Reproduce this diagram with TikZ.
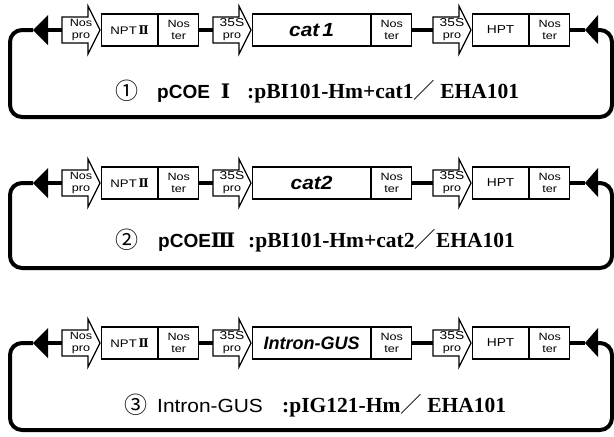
\documentclass[tikz,border=0pt]{standalone}
\usepackage{fontspec}
\setmainfont{Liberation Serif}
\newfontfamily\lsans{Liberation Sans}
\newfontfamily\wsans[FakeStretch=1.1]{Liberation Sans}
\newfontfamily\boxf[FakeStretch=1.2]{Liberation Sans}
\newfontfamily\genef[FakeStretch=1.1]{Liberation Sans}
\newfontfamily\cjk{Noto Sans CJK JP}
\newfontfamily\romf{DejaVu Serif}
\tikzset{
  gbox/.style={draw, line width=1.2pt, minimum height=32pt, inner sep=0pt, anchor=west,
    font=\boxf\fontsize{10.5}{11.5}\selectfont, align=center},
  promtext/.style={inner sep=0pt, font=\boxf\fontsize{10.5}{12}\selectfont, align=center},
  promshape/.style={draw, line width=1.2pt, fill=white, line join=miter},
  backbone/.style={line width=4.5pt},
  loopline/.style={line width=4pt, rounded corners=12pt},
  capnum/.style={anchor=base west, inner sep=0pt, font=\cjk\fontsize{23}{23}\selectfont},
  capsans/.style={anchor=base west, inner sep=0pt, font=\lsans\fontsize{19}{19}\selectfont},
  capserif/.style={anchor=base west, inner sep=0pt, font=\bfseries\fontsize{21.5}{21.5}\selectfont},
}
\newcommand\genepro[4]{%
  \draw[promshape] (#2,-13) -- ++(26,0) -- ++(0,-11) -- ++(12,24) -- ++(-12,24)
     -- ++(0,-11) -- ++(-26,0) -- cycle;
  \coordinate (#1w) at (#2,0);
  \coordinate (#1e) at ({#2+38},0);
  \node[promtext] (#1) at ({#2+19},0) {#3\\#4};}
\newcommand\drawpanel[4]{%
  \begin{scope}[shift={(0,#2)}]
    \coordinate (#1lt) at (33,0);
    \coordinate (#1lb) at (48,0);
    \coordinate (#1rt) at (585,0);
    \coordinate (#1rb) at (598,0);
    \node[gbox, minimum width=56pt] (#1npt) at (101,0) {\fontsize{11}{11}\selectfont NPT\,{\romf\bfseries\fontsize{12}{12}\selectfont Ⅱ}};
    \node[gbox, minimum width=40pt] (#1nta) at (#1npt.east) {Nos\\ter};
    \node[gbox, minimum width=118pt] (#1gene) at (252,0) {#4};
    \node[gbox, minimum width=40pt] (#1ntb) at (#1gene.east) {Nos\\ter};
    \node[gbox, minimum width=56pt] (#1hpt) at (472,0) {\fontsize{11.5}{11.5}\selectfont HPT};
    \node[gbox, minimum width=40pt] (#1ntc) at (#1hpt.east) {Nos\\ter};
    \draw[backbone] (#1lb) -- (62,0);
    \draw[backbone] (#1nta.east) -- (213,0);
    \draw[backbone] (#1ntb.east) -- (433,0);
    \draw[backbone] (#1ntc.east) -- (#1rt);
    \genepro{#1pa}{62}{Nos}{pro}
    \genepro{#1pb}{213}{\fontsize{11.5}{11.5}\selectfont 35S}{pro}
    \genepro{#1pc}{433}{\fontsize{11.5}{11.5}\selectfont 35S}{pro}
    \draw[loopline] (#1lt) -- (10,0) -- (10,#3) -- (612,#3) -- (612,0) -- (#1rb);
    \fill (#1lt) -- (48,-15) -- (48,15) -- cycle;
    \fill (#1rt) -- (598,-15) -- (598,14) -- cycle;
  \end{scope}}
\begin{document}
\begin{tikzpicture}[x=1pt,y=-1pt]
  \useasboundingbox (0,0) rectangle (614,437);
  \fill[white] (0,0) rectangle (614,437);
  \drawpanel{p1}{30}{87}{\genef\bfseries\itshape\fontsize{19}{19}\selectfont cat\hspace{3pt}1}
  \drawpanel{p2}{183}{85}{\genef\bfseries\itshape\fontsize{19}{19}\selectfont cat2}
  \drawpanel{p3}{343}{87}{\lsans\bfseries\itshape\fontsize{18}{18}\selectfont Intron-GUS}
  % captions
  \node[capnum] (c1n) at (115,99) {①};
  \node[capsans] (c1a) at (157,98) {\bfseries pCOE\hspace{11pt}{\romf\bfseries\fontsize{20}{20}\selectfont Ⅰ}};
  \node[capserif] (c1b) at (247,98) {:pBI101-Hm+cat1{\cjk\mdseries ／} EHA101};
  \node[capnum] (c2n) at (115,248) {②};
  \node[capsans] (c2a) at (158,247) {\bfseries pCOE{\romf\bfseries\fontsize{20}{20}\selectfont Ⅲ}};
  \node[capserif] (c2b) at (248,247) {:pBI101-Hm+cat2{\cjk\mdseries ／}EHA101};
  \node[capnum] (c3n) at (124,413) {③};
  \node[capsans] (c3a) at (157,412) {\wsans Intron-GUS};
  \node[capserif] (c3b) at (282,412) {:pIG121-Hm{\cjk\mdseries ／} EHA101};
\end{tikzpicture}
\end{document}
